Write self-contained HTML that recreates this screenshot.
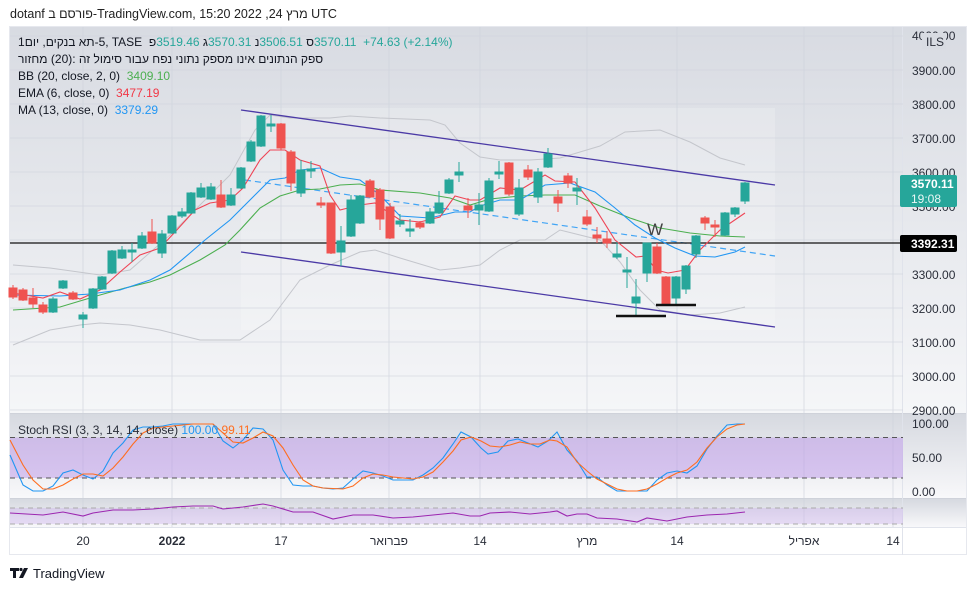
<!DOCTYPE html>
<html><head><meta charset="utf-8">
<style>
body{margin:0;width:976px;height:590px;background:#fff;font-family:"Liberation Sans","Noto Sans CJK SC",sans-serif;overflow:hidden;position:relative}
.t{position:absolute;font-size:12px;color:#131722;white-space:nowrap}
.o{display:flex;flex-direction:row;direction:ltr}
.ib{white-space:pre;direction:ltr}
.he{direction:rtl;white-space:pre}
</style></head><body>
<div class="t o" style="left:10px;top:7px;font-size:12.5px;color:#222"><span class="ib">dotanf </span><span class="he">פורסם ב</span><span class="ib">-TradingView.com, 15:20 2022 ,24 </span><span class="he">מרץ</span><span class="ib"> UTC</span></div>

<svg width="976" height="590" style="position:absolute;left:0;top:0" xmlns="http://www.w3.org/2000/svg">
<defs>
<linearGradient id="bg" x1="0" y1="0" x2="0" y2="1"><stop offset="0" stop-color="#d8dbe2"/><stop offset="1" stop-color="#f5f6f8"/></linearGradient>
<linearGradient id="bg2" x1="0" y1="0" x2="0" y2="1"><stop offset="0" stop-color="#d6d9e0"/><stop offset="1" stop-color="#f8f8fa"/></linearGradient>
</defs>
<rect x="9.5" y="26.5" width="957" height="528" fill="#fff" stroke="#e6e8ee"/>
<rect x="10" y="27" width="893" height="386" fill="url(#bg)"/>
<rect x="903" y="27" width="63" height="386" fill="url(#bg)"/>
<rect x="10" y="414" width="893" height="84" fill="url(#bg2)"/>
<rect x="903" y="414" width="63" height="84" fill="url(#bg2)"/>
<rect x="10" y="499" width="893" height="28" fill="url(#bg2)"/>
<rect x="903" y="499" width="63" height="28" fill="url(#bg2)"/>
<line x1="10" y1="413.5" x2="966" y2="413.5" stroke="#cfd2da"/>
<line x1="10" y1="498.5" x2="966" y2="498.5" stroke="#cfd2da"/>
<line x1="10" y1="527.5" x2="966" y2="527.5" stroke="#e0e3eb"/>
<line x1="902.5" y1="27" x2="902.5" y2="555" stroke="#e0e3eb"/>
<polygon points="241,108 775,108 775,330 241,330" fill="#fff" opacity="0.2"/>
<g stroke="#cfd3dc" stroke-width="0.8" opacity="0.8">
<line x1="10" y1="36" x2="903" y2="36"/><line x1="10" y1="70" x2="903" y2="70"/><line x1="10" y1="104" x2="903" y2="104"/><line x1="10" y1="138" x2="903" y2="138"/><line x1="10" y1="172" x2="903" y2="172"/><line x1="10" y1="206" x2="903" y2="206"/><line x1="10" y1="240" x2="903" y2="240"/><line x1="10" y1="274" x2="903" y2="274"/><line x1="10" y1="308" x2="903" y2="308"/><line x1="10" y1="342" x2="903" y2="342"/><line x1="10" y1="376" x2="903" y2="376"/><line x1="10" y1="410" x2="903" y2="410"/>
<line x1="83" y1="27" x2="83" y2="527"/><line x1="172" y1="27" x2="172" y2="527"/><line x1="281" y1="27" x2="281" y2="527"/><line x1="389" y1="27" x2="389" y2="527"/><line x1="480" y1="27" x2="480" y2="527"/><line x1="587" y1="27" x2="587" y2="527"/><line x1="677" y1="27" x2="677" y2="527"/><line x1="804" y1="27" x2="804" y2="527"/><line x1="893" y1="27" x2="893" y2="527"/>
</g>
<polyline fill="none" stroke="#c4c6cc" stroke-width="1" points="13,265 50,268 100,275 130,270 170,235 200,205 230,175 255,130 270,115 290,118 330,118 350,116 380,118 430,120 445,125 460,143 480,157 500,160 530,160 560,158 600,146 625,132 660,130 690,142 720,158 745,165"/>
<polyline fill="none" stroke="#c4c6cc" stroke-width="1" points="13,345 50,330 80,325 100,323 130,325 160,330 200,340 240,340 270,320 300,280 330,265 360,252 375,250 400,258 440,270 460,268 480,265 500,250 520,240 545,240 560,230 580,235 600,240 620,262 640,290 660,310 690,315 720,313 745,307"/>
<line x1="241" y1="110" x2="775" y2="185" stroke="#4b3aa6" stroke-width="1.3"/>
<line x1="241" y1="252" x2="775" y2="327" stroke="#4b3aa6" stroke-width="1.3"/>
<line x1="245" y1="180" x2="775" y2="256" stroke="#42a5f5" stroke-width="1.2" stroke-dasharray="6,4"/>
<line x1="10" y1="243" x2="903" y2="243" stroke="#111" stroke-width="1.2"/>
<polyline fill="none" stroke="#4caf50" stroke-width="1.1" points="13,310 60,307 100,295 125,288 150,282 170,275 200,260 225,245 240,230 260,208 280,196 300,190 320,189 340,185 360,184 380,190 420,193 450,198 470,205 490,199 520,196 545,195 575,195 600,206 630,218 660,228 690,233 720,236 745,237"/>
<polyline fill="none" stroke="#2196f3" stroke-width="1.1" points="13,295 60,296 90,294 120,290 150,280 170,270 190,253 205,240 230,220 250,200 270,180 285,178 300,170 320,168 340,177 360,180 380,195 400,216 430,218 455,212 470,212 480,206 500,200 520,200 545,185 570,183 595,192 615,208 635,225 655,238 675,248 695,256 715,257 735,252 745,247"/>
<polyline fill="none" stroke="#ef4455" stroke-width="1.1" points="13,293 43,298 60,292 80,299 100,290 120,272 140,255 160,248 175,232 195,210 210,203 230,200 243,188 260,160 270,150 285,150 300,160 320,166 330,195 340,210 360,205 375,203 385,210 400,220 420,222 440,217 455,196 470,200 480,200 500,188 520,190 545,175 555,181 575,182 595,208 615,240 636,257 646,256 656,270 668,273 685,270 700,250 720,230 745,213"/>
<g stroke-width="1">
<g stroke="#ef5350" fill="#ef5350">
<line x1="13" y1="285" x2="13" y2="299"/><rect x="9" y="288" width="8" height="9"/>
<line x1="23" y1="288" x2="23" y2="301"/><rect x="19" y="290" width="8" height="10"/>
<line x1="33" y1="288" x2="33" y2="308"/><rect x="29" y="298" width="8" height="6"/>
<line x1="43" y1="302" x2="43" y2="314"/><rect x="39" y="305" width="8" height="7"/>
<line x1="73" y1="291" x2="73" y2="300"/><rect x="69" y="293" width="8" height="6"/>
<line x1="152" y1="219" x2="152" y2="244"/><rect x="148" y="232" width="8" height="11"/>
<line x1="221" y1="180" x2="221" y2="208"/><rect x="217" y="195" width="8" height="12"/>
<line x1="281" y1="123" x2="281" y2="150"/><rect x="277" y="124" width="8" height="24"/>
<line x1="291" y1="150" x2="291" y2="191"/><rect x="287" y="152" width="8" height="31"/>
<line x1="321" y1="197" x2="321" y2="208"/><rect x="317" y="203" width="8" height="2"/>
<line x1="331" y1="203" x2="331" y2="254"/><rect x="327" y="203" width="8" height="50"/>
<line x1="370" y1="179" x2="370" y2="198"/><rect x="366" y="181" width="8" height="16"/>
<line x1="380" y1="188" x2="380" y2="230"/><rect x="376" y="190" width="8" height="29"/>
<line x1="390" y1="203" x2="390" y2="239"/><rect x="386" y="207" width="8" height="31"/>
<line x1="420" y1="221" x2="420" y2="229"/><rect x="416" y="223" width="8" height="4"/>
<line x1="468" y1="198" x2="468" y2="218"/><rect x="464" y="206" width="8" height="4"/>
<line x1="509" y1="162" x2="509" y2="196"/><rect x="505" y="163" width="8" height="31"/>
<line x1="528" y1="165" x2="528" y2="180"/><rect x="524" y="170" width="8" height="7"/>
<line x1="558" y1="190" x2="558" y2="212"/><rect x="554" y="197" width="8" height="6"/>
<line x1="568" y1="173" x2="568" y2="188"/><rect x="564" y="176" width="8" height="7"/>
<line x1="587" y1="210" x2="587" y2="226"/><rect x="583" y="217" width="8" height="7"/>
<line x1="597" y1="227" x2="597" y2="243"/><rect x="593" y="235" width="8" height="3"/>
<line x1="607" y1="231" x2="607" y2="248"/><rect x="603" y="239" width="8" height="4"/>
<line x1="657" y1="243" x2="657" y2="274"/><rect x="653" y="247" width="8" height="26"/>
<line x1="666" y1="276" x2="666" y2="305"/><rect x="662" y="277" width="8" height="27"/>
<line x1="705" y1="216" x2="705" y2="230"/><rect x="701" y="218" width="8" height="5"/>
<line x1="715" y1="220" x2="715" y2="237"/><rect x="711" y="225" width="8" height="2"/>
</g>
<g stroke="#26a69a" fill="#26a69a">
<line x1="53" y1="297" x2="53" y2="313"/><rect x="49" y="299" width="8" height="13"/>
<line x1="63" y1="280" x2="63" y2="289"/><rect x="59" y="281" width="8" height="7"/>
<line x1="83" y1="312" x2="83" y2="328"/><rect x="79" y="315" width="8" height="4"/>
<line x1="93" y1="288" x2="93" y2="309"/><rect x="89" y="289" width="8" height="19"/>
<line x1="102" y1="276" x2="102" y2="290"/><rect x="98" y="277" width="8" height="12"/>
<line x1="112" y1="250" x2="112" y2="274"/><rect x="108" y="251" width="8" height="22"/>
<line x1="122" y1="246" x2="122" y2="259"/><rect x="118" y="250" width="8" height="8"/>
<line x1="132" y1="243" x2="132" y2="262"/><rect x="128" y="250" width="8" height="2"/>
<line x1="142" y1="232" x2="142" y2="249"/><rect x="138" y="236" width="8" height="12"/>
<line x1="162" y1="230" x2="162" y2="258"/><rect x="158" y="234" width="8" height="19"/>
<line x1="172" y1="215" x2="172" y2="234"/><rect x="168" y="216" width="8" height="17"/>
<line x1="182" y1="208" x2="182" y2="218"/><rect x="178" y="212" width="8" height="4"/>
<line x1="191" y1="192" x2="191" y2="214"/><rect x="187" y="193" width="8" height="20"/>
<line x1="201" y1="183" x2="201" y2="198"/><rect x="197" y="188" width="8" height="9"/>
<line x1="211" y1="183" x2="211" y2="200"/><rect x="207" y="187" width="8" height="12"/>
<line x1="231" y1="188" x2="231" y2="206"/><rect x="227" y="195" width="8" height="10"/>
<line x1="241" y1="167" x2="241" y2="189"/><rect x="237" y="168" width="8" height="20"/>
<line x1="251" y1="140" x2="251" y2="162"/><rect x="247" y="142" width="8" height="19"/>
<line x1="261" y1="115" x2="261" y2="147"/><rect x="257" y="116" width="8" height="30"/>
<line x1="271" y1="115" x2="271" y2="132"/><rect x="267" y="124" width="8" height="2"/>
<line x1="301" y1="160" x2="301" y2="197"/><rect x="297" y="170" width="8" height="23"/>
<line x1="311" y1="161" x2="311" y2="178"/><rect x="307" y="169" width="8" height="2"/>
<line x1="341" y1="226" x2="341" y2="266"/><rect x="337" y="241" width="8" height="11"/>
<line x1="351" y1="195" x2="351" y2="237"/><rect x="347" y="200" width="8" height="36"/>
<line x1="360" y1="195" x2="360" y2="224"/><rect x="356" y="196" width="8" height="27"/>
<line x1="400" y1="214" x2="400" y2="227"/><rect x="396" y="221" width="8" height="3"/>
<line x1="410" y1="219" x2="410" y2="237"/><rect x="406" y="229" width="8" height="2"/>
<line x1="430" y1="208" x2="430" y2="224"/><rect x="426" y="212" width="8" height="11"/>
<line x1="439" y1="191" x2="439" y2="214"/><rect x="435" y="203" width="8" height="10"/>
<line x1="449" y1="178" x2="449" y2="194"/><rect x="445" y="180" width="8" height="13"/>
<line x1="459" y1="162" x2="459" y2="182"/><rect x="455" y="172" width="8" height="3"/>
<line x1="479" y1="193" x2="479" y2="225"/><rect x="475" y="205" width="8" height="5"/>
<line x1="489" y1="178" x2="489" y2="212"/><rect x="485" y="181" width="8" height="30"/>
<line x1="499" y1="161" x2="499" y2="179"/><rect x="495" y="172" width="8" height="2"/>
<line x1="519" y1="179" x2="519" y2="216"/><rect x="515" y="188" width="8" height="26"/>
<line x1="538" y1="168" x2="538" y2="203"/><rect x="534" y="172" width="8" height="25"/>
<line x1="548" y1="148" x2="548" y2="168"/><rect x="544" y="154" width="8" height="13"/>
<line x1="577" y1="178" x2="577" y2="205"/><rect x="573" y="188" width="8" height="3"/>
<line x1="617" y1="242" x2="617" y2="259"/><rect x="613" y="254" width="8" height="3"/>
<line x1="627" y1="257" x2="627" y2="288"/><rect x="623" y="270" width="8" height="2"/>
<line x1="636" y1="279" x2="636" y2="316"/><rect x="632" y="297" width="8" height="6"/>
<line x1="647" y1="243" x2="647" y2="282"/><rect x="643" y="243" width="8" height="30"/>
<line x1="676" y1="276" x2="676" y2="305"/><rect x="672" y="277" width="8" height="21"/>
<line x1="686" y1="265" x2="686" y2="294"/><rect x="682" y="266" width="8" height="23"/>
<line x1="696" y1="235" x2="696" y2="258"/><rect x="692" y="236" width="8" height="18"/>
<line x1="725" y1="212" x2="725" y2="236"/><rect x="721" y="213" width="8" height="22"/>
<line x1="735" y1="207" x2="735" y2="217"/><rect x="731" y="208" width="8" height="6"/>
<line x1="745" y1="182" x2="745" y2="204"/><rect x="741" y="183" width="8" height="18"/>
</g>
</g>
<line x1="616" y1="316" x2="666" y2="316" stroke="#111" stroke-width="2.5"/>
<line x1="656" y1="305" x2="696" y2="305" stroke="#111" stroke-width="2.5"/>
<text x="647" y="235" font-size="17" fill="#444" font-family="Liberation Sans,sans-serif">W</text>
<g font-size="12" fill="#2a2e39" font-family="Liberation Sans,sans-serif">
<text x="912" y="40">4000.00</text>
<text x="912" y="75">3900.00</text><text x="912" y="109">3800.00</text><text x="912" y="143">3700.00</text><text x="912" y="177">3600.00</text><text x="912" y="211">3500.00</text><text x="912" y="279">3300.00</text><text x="912" y="313">3200.00</text><text x="912" y="347">3100.00</text><text x="912" y="381">3000.00</text><text x="912" y="415">2900.00</text>
</g>
<rect x="922" y="33" width="24" height="16" fill="#d8dbe2"/>
<text x="926" y="46" font-size="12" fill="#2a2e39" font-family="Liberation Sans,sans-serif">ILS</text>
<rect x="900" y="175" width="57" height="32" rx="2" fill="#26a69a"/>
<text x="911" y="188" font-size="12" font-weight="bold" fill="#fff" font-family="Liberation Sans,sans-serif">3570.11</text>
<text x="911" y="203" font-size="12" fill="#e8f7f5" font-family="Liberation Sans,sans-serif">19:08</text>
<rect x="900" y="235" width="57" height="17" rx="2" fill="#000"/>
<text x="911" y="248" font-size="12" font-weight="bold" fill="#fff" font-family="Liberation Sans,sans-serif">3392.31</text>
<rect x="10" y="437.5" width="893" height="40.5" fill="#b98ee8" opacity="0.45"/>
<line x1="10" y1="437.5" x2="903" y2="437.5" stroke="#555" stroke-dasharray="5,4"/>
<line x1="10" y1="478" x2="903" y2="478" stroke="#555" stroke-dasharray="5,4"/>
<polyline fill="none" stroke="#2196f3" stroke-width="1.1" points="10,455 23,485 33,491 43,491 53,486 63,473 73,470 83,475 93,479 103,471 113,453 123,443 133,430 143,427 153,427 163,426 173,424 213,424 223,441 233,448 243,440 253,428 263,429 273,440 283,470 293,485 303,486 313,486 323,488 333,489 343,488 353,479 363,471 373,473 383,476 393,480 413,480 423,475 433,468 443,458 453,444 461,432 471,437 481,448 488,454 498,452 508,441 518,439 528,443 538,447 548,441 557,432 567,450 577,461 587,477 597,477 607,485 617,491 647,491 657,480 667,473 677,471 687,473 697,466 707,449 717,436 727,425 737,424 745,424"/>
<polyline fill="none" stroke="#ff6d1f" stroke-width="1.1" points="10,440 23,465 33,480 43,489 53,489 63,485 73,479 83,474 93,474 103,476 113,468 123,457 133,444 143,433 153,428 163,427 173,426 183,425 193,424 213,424 223,433 233,442 243,443 253,438 263,432 273,436 283,448 293,465 303,480 313,486 323,488 343,489 353,486 363,478 373,474 383,475 393,477 413,479 423,477 433,472 443,462 453,451 461,440 471,437 481,441 490,446 500,447 510,445 520,442 530,444 540,444 550,440 557,441 567,447 577,462 587,471 597,479 607,484 617,489 627,491 637,491 647,489 657,484 667,478 677,473 687,470 697,462 707,448 717,437 727,429 737,425 745,424"/>
<text x="18" y="434" font-size="12" fill="#2a2e39" font-family="Liberation Sans,sans-serif">Stoch RSI (3, 3, 14, 14, close) <tspan fill="#2196f3">100.00</tspan> <tspan fill="#ff6d1f">99.11</tspan></text>
<g font-size="12" fill="#2a2e39" font-family="Liberation Sans,sans-serif">
<text x="912" y="428">100.00</text><text x="912" y="462">50.00</text><text x="912" y="496">0.00</text>
</g>
<rect x="10" y="508" width="893" height="16" fill="#c9a8ee" opacity="0.35"/>
<line x1="10" y1="508" x2="903" y2="508" stroke="#aaa" stroke-dasharray="5,4"/>
<line x1="10" y1="524" x2="903" y2="524" stroke="#aaa" stroke-dasharray="5,4"/>
<polyline fill="none" stroke="#9c27b0" stroke-width="1.1" points="10,513 43,515 63,512 83,516 93,513 113,510 133,510 153,509 173,507 193,506 213,506 223,509 243,507 263,504 273,506 293,512 313,512 333,519 353,515 373,515 393,518 413,517 433,515 453,513 470,516 480,516 490,513 510,512 530,514 550,512 557,511 567,516 577,514 587,514 597,518 617,519 637,522 647,518 667,521 687,517 707,515 727,514 745,512"/>
<g font-size="12" fill="#2a2e39" font-family="Liberation Sans,'Noto Sans CJK SC',sans-serif" text-anchor="middle">
<text x="83" y="545">20</text><text x="172" y="545" font-weight="bold">2022</text><text x="281" y="545">17</text><text x="389" y="545">פברואר</text><text x="480" y="545">14</text><text x="587" y="545">מרץ</text><text x="677" y="545">14</text><text x="804" y="545">אפריל</text><text x="893" y="545">14</text>
</g>
<path d="M10 568h9v3h-3v7h-3v-7h-3z" fill="#131722"/><circle cx="21" cy="569.5" r="1.6" fill="#131722"/><path d="M24 568h4l-5 10h-4z" fill="#131722"/>
<text x="33" y="578" font-size="13" fill="#131722" font-family="Liberation Sans,sans-serif">TradingView</text>
</svg>

<div class="t o" style="left:18px;top:35px"><span class="ib">1</span><span class="he">יום</span><span class="ib"> ,</span><span class="he">תא בנקים</span><span class="ib">-5, TASE  </span><span class="he">פ</span><span class="ib" style="color:#26a69a">3519.46 </span><span class="he">ג</span><span class="ib" style="color:#26a69a">3570.31 </span><span class="he">נ</span><span class="ib" style="color:#26a69a">3506.51 </span><span class="he">ס</span><span class="ib" style="color:#26a69a">3570.11  +74.63 (+2.14%)</span></div>
<div class="t o" style="left:18px;top:52px"><span class="he">מחזור</span><span class="ib"> (20): </span><span class="he">ספק הנתונים אינו מספק נתוני נפח עבור סימול זה</span></div>
<div class="t" style="left:18px;top:69px">BB (20, close, 2, 0)&nbsp; <span style="color:#4caf50">3409.10</span></div>
<div class="t" style="left:18px;top:86px">EMA (6, close, 0)&nbsp; <span style="color:#f23645">3477.19</span></div>
<div class="t" style="left:18px;top:103px">MA (13, close, 0)&nbsp; <span style="color:#2196f3">3379.29</span></div>
</body></html>
